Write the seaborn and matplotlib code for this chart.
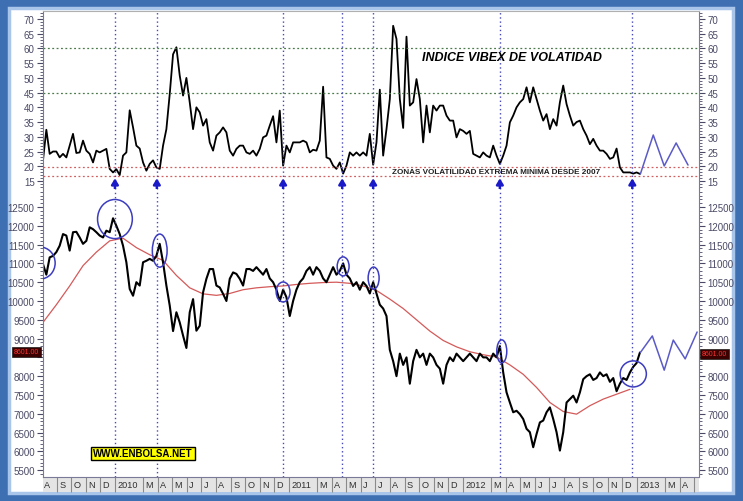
import numpy as np
import pandas as pd
import matplotlib
matplotlib.use('Agg')
import matplotlib.pyplot as plt
import matplotlib.dates as mdates
import matplotlib.transforms as mtransforms
from matplotlib.patches import Ellipse, Rectangle
from matplotlib.ticker import MultipleLocator, FixedFormatter
import seaborn as sns

# --- datos (cierre semanal aproximado) ---
vibex = [22, 32.4, 24.2, 25, 25, 23, 24.2, 23, 27, 31,
         24.5, 24.7, 28.7, 25.3, 24.2, 21.3, 25.3, 24.7, 25.3, 25.9,
         19.1, 17.9, 19, 17, 23.6, 24.7, 39, 33.2, 27, 26,
         21.3, 18.5, 20.8, 22, 19.6, 19.1, 27, 32.6, 44.5, 58,
         60.4, 50.8, 44, 50, 41.7, 32.6, 40, 38.3, 33.8, 36,
         28.1, 25.3, 30.4, 31.5, 33.2, 31.5, 25.3, 23.6, 25.9, 27,
         27, 24.7, 24.2, 25.3, 23.6, 25.9, 29.8, 30.4, 33.8, 37,
         28.1, 38.9, 20.2, 27, 24.7, 28.1, 28.1, 28.1, 28.7, 28.1,
         24.7, 25.6, 25.3, 28.7, 47, 23, 22.5, 20.2, 19.1, 21.3,
         17.5, 20.2, 24.7, 23.6, 24.7, 23.6, 24.7, 23.6, 31, 20.5,
         28.1, 46, 23.6, 32.6, 42.8, 67.7, 63.2, 42.8, 33, 64,
         40.6, 41.7, 49.6, 42.8, 28.1, 40.6, 31.5, 40.6, 38.9, 40.6,
         40.6, 37.2, 35.5, 35.5, 29.8, 32.6, 32, 31, 32, 24.2,
         23.6, 23, 24.7, 23.6, 23, 27, 23.6, 20.8, 23.6, 27,
         34.9, 37.2, 40, 41.7, 42.8, 46.8, 41.7, 46.8, 42.8, 38.9,
         35.5, 37.7, 32.6, 36, 33.8, 41.7, 47.4, 41.1, 37.2, 33.8,
         35, 35.5, 32.6, 30.4, 27.5, 29.3, 27, 25.3, 25.3, 24.2,
         22.5, 23, 26, 19.6, 17.9, 17.9, 17.9, 17.5, 17.9, 17.4]

ibex = [10980, 10700, 11160, 11200, 11300, 11470, 11780, 11740, 11340, 11830,
        11840, 11690, 11520, 11600, 11960, 11910, 11830, 11740, 11690, 11870,
        11830, 12200, 12000, 11780, 11470, 11030, 10320, 10140, 10500, 10410,
        11030, 11070, 11120, 11070, 11200, 11520, 11030, 10410, 9880, 9200,
        9700, 9430, 9080, 8750, 9700, 10050, 9210, 9340, 10230, 10590,
        10850, 10850, 10410, 10360, 10190, 10000, 10590, 10760, 10720, 10590,
        10410, 10850, 10850, 10800, 10900, 10800, 10700, 10850, 10600, 10500,
        10300, 10000, 10300, 10100, 9600, 10000, 10300, 10500, 10600, 10800,
        10900, 10700, 10900, 10800, 10600, 10500, 10700, 10900, 10700, 10800,
        11000, 10700, 10600, 10400, 10500, 10300, 10500, 10400, 10200, 10500,
        10200, 9900, 9800, 9600, 8700, 8400, 8000, 8600, 8300, 8500,
        7800, 8400, 8700, 8500, 8600, 8300, 8600, 8500, 8300, 8200,
        7800, 8300, 8500, 8400, 8600, 8500, 8400, 8500, 8600, 8500,
        8400, 8600, 8500, 8500, 8400, 8600, 8500, 8800, 8100, 7570,
        7300, 7040, 7080, 6990, 6860, 6600, 6510, 6110, 6460, 6770,
        6820, 7040, 7170, 6860, 6510, 6020, 6510, 7300, 7390, 7480,
        7300, 7570, 7920, 8000, 8050, 7900, 7950, 8100, 8000, 8050,
        7850, 7950, 7600, 7800, 7950, 7900, 8100, 8250, 8350, 8630]

# media movil del IBEX, un valor cada 4 semanas
media_ibex = [9430, 9900, 10400, 10940, 11300, 11600, 11670, 11420, 11230, 11080,
              10680, 10350, 10190, 10150, 10200, 10300, 10350, 10380, 10400, 10440,
              10470, 10490, 10500, 10470, 10400, 10280, 10050, 9800, 9500, 9200,
              8950, 8780, 8650, 8570, 8510, 8300, 8050, 7700, 7300, 7060,
              6990, 7215, 7390, 7520, 7650]

# proyecciones dibujadas a mano
prev_vibex_fechas = ['2013-01-08', '2013-02-04', '2013-02-27', '2013-03-24', '2013-04-18']
prev_vibex = [17.4, 30.6, 20.1, 27.9, 20.4]
prev_ibex_fechas = ['2013-01-08', '2013-02-02', '2013-02-27', '2013-03-18', '2013-04-12', '2013-05-07']
prev_ibex = [8630, 9070, 8160, 8960, 8460, 9175]

# minimos de volatilidad marcados
fechas_min = ['2010-01-01', '2010-03-30', '2010-12-20', '2011-04-23', '2011-06-27', '2012-03-19', '2012-12-22']

# circulos sobre el IBEX
circ_fechas = ['2009-07-28', '2010-01-01', '2010-04-05', '2010-12-20', '2011-04-25', '2011-06-28', '2012-03-23', '2012-12-24']
circ_nivel = [11010, 12180, 11340, 10240, 10920, 10610, 8660, 8060]
circ_ancho = [63, 73, 31, 29, 25, 23, 21, 55]
circ_alto = [850, 1040, 880, 530, 505, 585, 612, 692]

lineas_verdes = [60, 45]
lineas_rojas = [19.7, 16.6]
ultimo = '8601.00'

fechas = pd.date_range('2009-08-03', periods=len(vibex), freq='7D')
df = pd.DataFrame({'fecha': fechas, 'vibex': vibex, 'ibex': ibex})
df_media = pd.DataFrame({'fecha': fechas[::4][:len(media_ibex)], 'media': media_ibex})

sns.set_theme(style='white')
plt.rcParams['font.family'] = ['Liberation Sans', 'DejaVu Sans']

W, H = 743, 502
fig = plt.figure(figsize=(W / 100, H / 100), dpi=100)
fig.patch.set_facecolor('#3d6fb2')


def fx(px):
    return px / W


def fy(py):
    return 1 - py / H


fig.add_artist(Rectangle((fx(9), fy(494)), fx(733) - fx(9), fy(9) - fy(494), transform=fig.transFigure,
                         facecolor='white', edgecolor='#a9c6ea', lw=2.5, zorder=-2))
fig.add_artist(Rectangle((fx(43), fy(493)), fx(699) - fx(43), fy(478) - fy(493), transform=fig.transFigure,
                         facecolor='#e4e4e4', edgecolor='none', zorder=-1))

ax1 = fig.add_axes([fx(43), fy(190), fx(699) - fx(43), fy(12) - fy(190)])
ax2 = fig.add_axes([fx(43), fy(478), fx(699) - fx(43), fy(190) - fy(478)], sharex=ax1)

sns.lineplot(data=df, x='fecha', y='vibex', ax=ax1, color='black', lw=1.3)
sns.lineplot(data=df_media, x='fecha', y='media', ax=ax2, color='#d45a5a', lw=0.9)
sns.lineplot(data=df, x='fecha', y='ibex', ax=ax2, color='black', lw=1.5)
ax1.plot(pd.to_datetime(prev_vibex_fechas), prev_vibex, color='#5a5ac8', lw=1.1)
ax2.plot(pd.to_datetime(prev_ibex_fechas), prev_ibex, color='#5a5ac8', lw=1.1)

for v in lineas_verdes:
    ax1.axhline(v, color='#4a7a4a', ls=(0, (1.5, 2)), lw=0.9)
for v in lineas_rojas:
    ax1.axhline(v, color='#d06060', ls=(0, (1.5, 2)), lw=0.9)

for d in pd.to_datetime(fechas_min):
    for ax in (ax1, ax2):
        ax.axvline(d, color='#4848b8', ls=(0, (1, 2)), lw=1)
    ax1.annotate('', xy=(d, 15.9), xytext=(d, 12.4),
                 arrowprops=dict(arrowstyle='-|>,head_width=0.17,head_length=0.28',
                                 color='#1a1ac8', lw=1.8, shrinkA=0, shrinkB=0))

for d, n, w, h in zip(pd.to_datetime(circ_fechas), circ_nivel, circ_ancho, circ_alto):
    ax2.add_patch(Ellipse((mdates.date2num(d), n), width=w, height=h, fill=False,
                          edgecolor='#3c3cc0', lw=1.1, zorder=5))

ax1.set_ylim(12.27, 72.72)
ax2.set_ylim(5318, 12979)
ax1.set_xlim(pd.Timestamp('2009-08-03'), pd.Timestamp('2013-05-11'))

ax1.set_yticks(range(15, 75, 5))
ax1.yaxis.set_minor_locator(MultipleLocator(1))
ticks_ibex = list(range(5500, 13000, 500))
ax2.set_yticks(ticks_ibex)
# la etiqueta 8500 queda tapada por la caja del ultimo precio
ax2.set_yticklabels(['' if t == 8500 else str(t) for t in ticks_ibex])
ax2.yaxis.set_minor_locator(MultipleLocator(100))

for ax in (ax1, ax2):
    ax.set_xlabel('')
    ax.set_ylabel('')
    ax.set_facecolor('white')
    ax.tick_params(axis='y', which='both', left=True, right=True, labelleft=True, labelright=True,
                   direction='out', colors='#4a4a66', labelsize=7, pad=2)
    ax.tick_params(axis='y', which='major', length=4, width=0.8)
    ax.tick_params(axis='y', which='minor', length=2, width=0.6)
    for s in ax.spines.values():
        s.set_color('#7a7a98')
        s.set_linewidth(0.8)
ax1.spines['bottom'].set_visible(False)
ax2.spines['top'].set_visible(False)
ax1.spines['top'].set_color('#b0b0b0')

# eje de meses
meses = pd.date_range('2009-09-01', '2013-05-01', freq='MS')
meses = [m for m in meses if m.month != 2]
letras = 'EFMAMJJASOND'
ax2.set_xticks(meses)
ax1.tick_params(axis='x', which='both', bottom=False, labelbottom=False)
ax2.tick_params(axis='x', which='major', bottom=True, labelbottom=False, direction='out',
                length=10.5, width=0.8, color='#8a8a8a')
trans = mtransforms.blended_transform_factory(ax2.transData, ax2.transAxes)
etiquetas = [pd.Timestamp('2009-08-01')] + meses[:-1]
for m in etiquetas:
    txt = str(m.year) if m.month == 1 else letras[m.month - 1]
    ax2.text(m + pd.Timedelta(days=5), -0.027, txt, transform=trans, ha='left', va='center',
             fontsize=6.6, color='#303030')

# textos
fig.text(fx(422), fy(58), 'INDICE VIBEX DE VOLATIDAD', fontsize=9, fontweight='bold',
         fontstyle='italic', ha='left', va='center', color='black')
fig.text(fx(496), fy(173), 'ZONAS VOLATILIDAD EXTREMA MINIMA DESDE 2007', fontsize=5.9,
         fontweight='bold', ha='center', va='center', color='#202020')
fig.text(fx(143), fy(454.5), 'WWW.ENBOLSA.NET', fontsize=7, fontweight='bold', ha='center', va='center',
         color='black', bbox=dict(boxstyle='square,pad=0.2', fc='#ffff00', ec='black', lw=1))
for xc, yc in ((26.5, 353), (714.5, 355)):
    fig.text(fx(xc), fy(yc), ultimo, fontsize=5, ha='center', va='center', color='#ff3030',
             bbox=dict(boxstyle='square,pad=0.2', fc='#3a0000', ec='#1a1a1a', lw=0.5))

fig.savefig('out.png', dpi=100, facecolor=fig.get_facecolor())
